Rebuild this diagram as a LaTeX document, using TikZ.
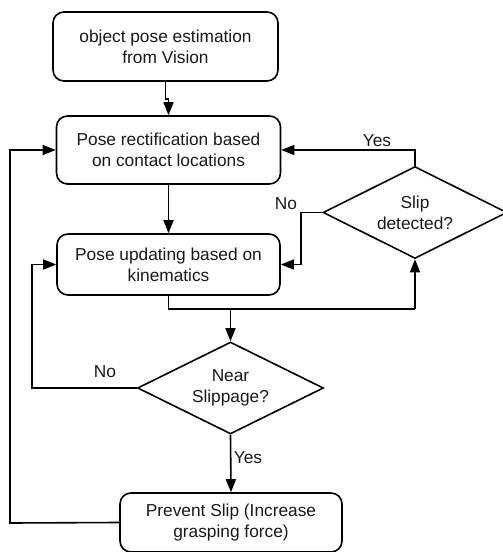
\documentclass[tikz,border=0pt]{standalone}
\usepackage{fontspec}
\setmainfont{Liberation Sans}
\usetikzlibrary{shapes.geometric,arrows.meta}
\begin{document}
\begin{tikzpicture}[x=1pt,y=-1pt,
  every node/.style={font=\fontsize{17.3}{21}\selectfont, text=black!90},
  procbox/.style={draw, line width=1.6pt, rounded corners=11pt, align=center, inner sep=0pt},
  decision/.style={draw, line width=1.6pt, shape=diamond, inner sep=0pt},
  dtext/.style={align=center, inner sep=0pt},
  conn/.style={draw, line width=1.6pt, -{Triangle[length=13pt,width=10pt]}},
  plain/.style={draw, line width=1.6pt},
  lbl/.style={inner sep=0pt}]
\clip (0,0) rectangle (503,552);
\useasboundingbox (0,0) rectangle (503,552);
\node[procbox, minimum width=225pt, minimum height=69pt] (b1) at (165.5,46.5) {object pose estimation\\from Vision};
\node[procbox, minimum width=224pt, minimum height=68pt] (b2) at (168.5,150) {Pose rectification based\\on contact locations};
\node[procbox, minimum width=223pt, minimum height=61pt] (b3) at (168.5,264.5) {Pose updating based on\\kinematics};
\node[decision, minimum width=184pt, minimum height=92pt] (d1) at (415,212.5) {};
\node[dtext] (d1t) at (d1.center) {Slip\\detected?};
\node[decision, minimum width=186pt, minimum height=92pt] (d2) at (230.5,388) {};
\node[dtext] (d2t) at (d2.center) {Near\\Slippage?};
\node[procbox, minimum width=222pt, minimum height=59pt] (b4) at (231,522.5) {Prevent Slip (Increase\\grasping force)};

\coordinate (j) at (230.5,309);
\coordinate (jr) at (d1.south |- j);
\coordinate (k1) at (301,212.5);
\coordinate (k2) at (32,388);
\coordinate (k3) at (10,523);

\draw[conn] (b1.south) -- ++(0,17) -| (b2.north);
\draw[conn] (b2.south) -- (b3.north);
\draw[plain] (b3.south) |- (jr);
\draw[conn] (jr) -- (d1.south);
\draw[conn] (j) -- (d2.north);
\draw[conn] (d1.north) |- (b2.east);
\draw[conn] (d1.west) -- (k1) |- (b3.east);
\draw[conn] (d2.west) -- (k2) |- (b3.west);
\draw[conn] (d2.south) -- (b4.north);
\draw[conn] (b4.west) -- (k3) |- (b2.west);

\node[lbl] (yes1) at (377,141) {Yes};
\node[lbl] (no1) at (286,204) {No};
\node[lbl] (no2) at (105,372) {No};
\node[lbl] (yes2) at (248,458) {Yes};
\end{tikzpicture}
\end{document}
